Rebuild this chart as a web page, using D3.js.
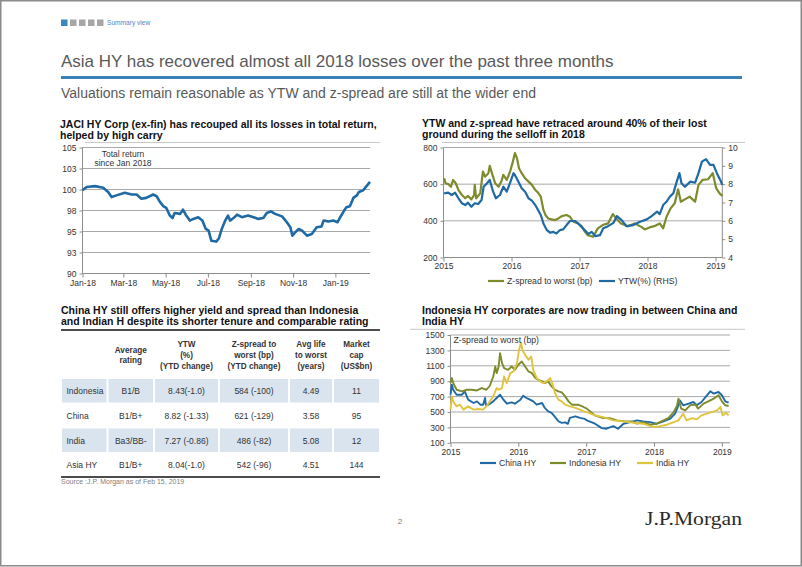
<!DOCTYPE html>
<html><head><meta charset="utf-8">
<script src="https://cdn.jsdelivr.net/npm/d3@7"></script>
<style>
body{margin:0;background:#fff}
svg{display:block}
text{font-family:"Liberation Sans",Arial,sans-serif}
</style>
</head><body>
<svg id="c" width="802" height="567"></svg>
<script>
// ---------------- DATA ----------------
// Chart 1: JACI HY Corp total return (since Jan 2018)
const trDates = ["2018-01-01","2018-01-07","2018-01-19","2018-01-31","2018-02-07","2018-02-12","2018-02-19","2018-03-03","2018-03-13","2018-03-20","2018-03-27","2018-04-03","2018-04-13","2018-04-18","2018-04-23","2018-04-28","2018-05-02","2018-05-07","2018-05-11","2018-05-14","2018-05-22","2018-05-26","2018-05-30","2018-06-05","2018-06-10","2018-06-17","2018-06-23","2018-06-28","2018-07-02","2018-07-06","2018-07-13","2018-07-17","2018-07-21","2018-07-26","2018-07-30","2018-08-02","2018-08-07","2018-08-12","2018-08-19","2018-08-28","2018-09-05","2018-09-12","2018-09-19","2018-09-24","2018-09-30","2018-10-06","2018-10-16","2018-10-23","2018-10-28","2018-10-31","2018-11-04","2018-11-09","2018-11-14","2018-11-21","2018-11-28","2018-12-05","2018-12-12","2018-12-15","2018-12-22","2018-12-29","2019-01-04","2019-01-08","2019-01-13","2019-01-17","2019-01-22","2019-01-27","2019-02-01","2019-02-04","2019-02-10","2019-02-15","2019-02-20"];
const trValues = [99.9,100.3,100.4,100.2,99.7,99.1,99.3,99.6,99.4,99.4,98.9,99.0,99.4,99.2,98.5,98.0,97.8,96.9,96.6,97.2,97.1,97.6,97.0,96.3,96.5,96.7,96.3,95.3,95.1,93.9,93.8,94.2,95.3,96.3,96.9,96.3,96.6,97.0,96.7,96.9,96.7,96.5,96.6,97.2,97.4,97.1,96.8,96.1,95.5,94.5,94.9,95.3,95.1,94.5,94.7,95.5,95.6,96.3,96.2,96.3,96.1,96.7,97.4,97.9,98.0,99.0,99.3,99.7,99.9,100.4,100.9];
const trMonthTicks = ["2018-01-01","2018-03-01","2018-05-01","2018-07-01","2018-09-01","2018-11-01","2019-01-01"];
const trYTicks = [90,92.5,95,97.5,100,102.5,105];
const trYLabels = ["90","93","95","98","100","103","105"];

// Chart 2: Z-spread to worst (bp, LHS) and YTW (%, RHS)
const zSpread = [[2015.01,632],[2015.03,605],[2015.07,600],[2015.11,586],[2015.14,623],[2015.18,605],[2015.22,568],[2015.27,541],[2015.32,523],[2015.36,536],[2015.41,517],[2015.45,541],[2015.46,596],[2015.48,523],[2015.54,550],[2015.58,669],[2015.61,641],[2015.66,660],[2015.68,700],[2015.72,651],[2015.76,605],[2015.81,586],[2015.85,614],[2015.88,651],[2015.93,623],[2015.98,669],[2016.02,723],[2016.05,769],[2016.08,742],[2016.11,687],[2016.15,660],[2016.20,632],[2016.25,614],[2016.30,596],[2016.35,568],[2016.39,554],[2016.43,532],[2016.47,459],[2016.50,432],[2016.54,413],[2016.59,408],[2016.64,404],[2016.69,413],[2016.74,426],[2016.81,432],[2016.86,422],[2016.91,395],[2016.98,386],[2017.03,371],[2017.08,340],[2017.12,322],[2017.20,313],[2017.27,359],[2017.34,377],[2017.42,386],[2017.49,437],[2017.54,413],[2017.61,386],[2017.71,371],[2017.81,386],[2017.91,367],[2017.96,353],[2018.03,364],[2018.10,371],[2018.18,386],[2018.23,359],[2018.28,422],[2018.34,468],[2018.40,496],[2018.45,572],[2018.49,504],[2018.55,517],[2018.62,532],[2018.70,504],[2018.75,596],[2018.81,623],[2018.89,627],[2018.96,660],[2019.01,578],[2019.06,550],[2019.10,536]];
const ytw = [[2015.01,7.50],[2015.07,7.54],[2015.12,7.41],[2015.17,7.54],[2015.22,7.23],[2015.27,6.96],[2015.32,6.86],[2015.36,6.99],[2015.41,6.77],[2015.46,6.96],[2015.51,6.92],[2015.56,7.14],[2015.59,7.86],[2015.64,8.05],[2015.68,8.23],[2015.73,7.59],[2015.77,7.23],[2015.83,7.41],[2015.88,7.86],[2015.93,7.59],[2015.98,8.08],[2016.03,8.60],[2016.05,8.50],[2016.10,8.14],[2016.15,7.78],[2016.20,7.59],[2016.25,7.23],[2016.30,7.10],[2016.35,6.86],[2016.39,6.59],[2016.43,6.32],[2016.47,5.86],[2016.52,5.49],[2016.57,5.35],[2016.61,5.40],[2016.66,5.31],[2016.71,5.49],[2016.76,5.53],[2016.81,5.77],[2016.86,5.99],[2016.93,5.99],[2016.98,5.86],[2017.03,5.67],[2017.08,5.49],[2017.13,5.28],[2017.18,5.40],[2017.23,5.17],[2017.30,5.22],[2017.35,5.59],[2017.42,5.71],[2017.50,5.89],[2017.55,6.26],[2017.62,6.04],[2017.69,5.71],[2017.79,5.77],[2017.89,5.95],[2017.99,6.08],[2018.06,6.26],[2018.14,6.50],[2018.18,6.37],[2018.23,6.86],[2018.28,7.04],[2018.33,7.32],[2018.38,7.50],[2018.43,8.14],[2018.47,8.60],[2018.50,8.05],[2018.55,7.86],[2018.63,8.14],[2018.70,8.08],[2018.75,8.60],[2018.80,9.23],[2018.86,9.36],[2018.92,9.05],[2018.97,9.05],[2019.02,8.60],[2019.07,8.23],[2019.10,7.96]];
const yearTicks = [2015,2016,2017,2018,2019];
const zsTicks = [200,400,600,800];
const ytwTicks = [4,5,6,7,8,9,10];

// Chart 3: Z-spread to worst (bp) by country
const chinaHY = [[2015.00,725],[2015.02,854],[2015.04,789],[2015.09,725],[2015.17,725],[2015.21,767],[2015.26,660],[2015.34,617],[2015.39,638],[2015.44,595],[2015.48,595],[2015.51,682],[2015.52,595],[2015.56,595],[2015.63,638],[2015.68,682],[2015.73,725],[2015.78,660],[2015.83,608],[2015.90,625],[2015.95,608],[2016.03,660],[2016.07,712],[2016.12,682],[2016.17,660],[2016.22,638],[2016.27,595],[2016.35,617],[2016.39,553],[2016.44,509],[2016.49,488],[2016.54,436],[2016.59,380],[2016.64,359],[2016.69,366],[2016.73,346],[2016.76,423],[2016.84,444],[2016.91,423],[2016.98,410],[2017.01,391],[2017.13,348],[2017.23,291],[2017.30,283],[2017.40,317],[2017.47,283],[2017.55,348],[2017.65,369],[2017.75,391],[2017.84,378],[2017.94,369],[2018.04,348],[2018.14,378],[2018.24,413],[2018.31,478],[2018.36,587],[2018.38,652],[2018.43,587],[2018.51,609],[2018.58,630],[2018.63,587],[2018.70,630],[2018.78,717],[2018.83,769],[2018.88,739],[2018.95,760],[2019.00,717],[2019.05,639],[2019.10,622]];
const indonesiaHY = [[2015.00,876],[2015.02,941],[2015.04,876],[2015.09,789],[2015.17,767],[2015.24,789],[2015.31,789],[2015.39,780],[2015.46,811],[2015.53,789],[2015.58,841],[2015.63,961],[2015.66,1091],[2015.68,1005],[2015.71,1091],[2015.73,1264],[2015.76,1134],[2015.79,1070],[2015.85,1048],[2015.90,1091],[2015.95,1048],[2016.00,1113],[2016.05,1156],[2016.10,1091],[2016.15,1027],[2016.20,1005],[2016.25,941],[2016.29,919],[2016.35,898],[2016.39,876],[2016.44,898],[2016.49,832],[2016.54,789],[2016.59,767],[2016.64,754],[2016.69,703],[2016.74,638],[2016.79,595],[2016.88,595],[2016.96,565],[2017.01,544],[2017.13,456],[2017.25,421],[2017.35,421],[2017.45,391],[2017.57,378],[2017.67,378],[2017.75,348],[2017.84,369],[2017.94,335],[2018.04,348],[2018.14,391],[2018.21,421],[2018.29,499],[2018.34,587],[2018.36,674],[2018.40,544],[2018.46,521],[2018.53,587],[2018.61,596],[2018.65,544],[2018.73,609],[2018.80,639],[2018.88,674],[2018.95,717],[2019.00,639],[2019.05,587],[2019.10,578]];
const indiaHY = [[2015.00,531],[2015.02,703],[2015.04,638],[2015.09,573],[2015.14,595],[2015.19,531],[2015.26,573],[2015.34,531],[2015.41,539],[2015.48,531],[2015.53,573],[2015.58,638],[2015.63,703],[2015.68,811],[2015.71,789],[2015.76,811],[2015.79,961],[2015.83,876],[2015.88,1005],[2015.93,1027],[2015.98,1134],[2016.01,1306],[2016.04,1401],[2016.06,1306],[2016.10,1242],[2016.15,1177],[2016.19,1220],[2016.22,1048],[2016.27,941],[2016.32,898],[2016.37,876],[2016.42,898],[2016.47,941],[2016.50,876],[2016.54,747],[2016.59,660],[2016.64,638],[2016.69,595],[2016.76,573],[2016.84,553],[2016.91,531],[2016.96,509],[2017.01,499],[2017.13,456],[2017.25,434],[2017.40,391],[2017.55,378],[2017.70,361],[2017.84,348],[2017.99,304],[2018.09,317],[2018.19,335],[2018.29,369],[2018.36,391],[2018.43,478],[2018.48,391],[2018.56,421],[2018.63,404],[2018.70,456],[2018.78,478],[2018.85,499],[2018.93,521],[2018.98,565],[2019.01,456],[2019.06,491],[2019.10,456]];
const spreadTicks = [100,300,500,700,900,1100,1300,1500];
const countryNames = ["China HY","Indonesia HY","India HY"];

// Table
const tableHeaders = [[""],["Average","rating"],["YTW","(%)","(YTD change)"],["Z-spread  to","worst (bp)","(YTD change)"],["Avg life","to worst","(years)"],["Market","cap","(US$bn)"]];
const tableRows = [
  ["Indonesia","B1/B","8.43(-1.0)","584 (-100)","4.49","11"],
  ["China","B1/B+","8.82 (-1.33)","621 (-129)","3.58","95"],
  ["India","Ba3/BB-","7.27 (-0.86)","486 (-82)","5.08","12"],
  ["Asia HY","B1/B+","8.04(-1.0)","542 (-96)","4.51","144"]
];

// ---------------- DRAW ----------------
const svg = d3.select("#c");
const BLUE = "#1f6aa5", OLIVE = "#7e8b2d", YELLOW = "#dfc43e";
const AXIS = "#8c8c8c", GRID = "#a9a9a9", LBL = "#333";
const parse = d3.timeParse("%Y-%m-%d");
const intFmt = d3.format("d");

svg.append("rect").attr("x",0.75).attr("y",0.75).attr("width",800.5).attr("height",565)
  .attr("fill","#fff").attr("stroke","#8a8a8a").attr("stroke-width",1.5);

// header squares
["#3b86be","#a6a6a6","#a6a6a6","#a6a6a6","#a6a6a6"].forEach((c,i)=>{
  svg.append("rect").attr("x",61+i*9).attr("y",19.5).attr("width",6.5).attr("height",6.5).attr("fill",c);
});
svg.append("text").attr("x",107).attr("y",25.3).attr("font-size",6.6).attr("fill","#4a8ac4").text("Summary view");

svg.append("text").attr("x",61).attr("y",67).attr("font-size",17).attr("fill","#595959")
  .text("Asia HY has recovered almost all 2018 losses over the past three months");
svg.append("rect").attr("x",61).attr("y",76).attr("width",681).attr("height",3).attr("fill","#3a80b9");
svg.append("text").attr("x",61).attr("y",98).attr("font-size",14).attr("fill","#595959")
  .text("Valuations remain reasonable as YTW and z-spread are still at the wider end");

function title(x,y,lines){
  lines.forEach((t,i)=>svg.append("text").attr("x",x).attr("y",y+i*11.3).attr("font-size",10.5)
    .attr("font-weight","bold").attr("fill","#111").text(t));
}
function hline(x1,x2,y,color,w){
  svg.append("line").attr("x1",x1).attr("x2",x2).attr("y1",y).attr("y2",y).attr("stroke",color).attr("stroke-width",w);
}
function styleAxis(g){
  g.select(".domain").remove();
  g.selectAll(".tick line").attr("stroke",AXIS);
  g.selectAll(".tick text").attr("font-size",8.5).attr("fill",LBL);
}

// ===== Chart 1 =====
title(60,127.5,["JACI HY Corp (ex-fin) has recouped all its losses in total return,","helped by high carry"]);
hline(85,380,142.5,"#c8c8c8",1);
const x1 = d3.scaleTime().domain([parse("2018-01-01"), parse("2019-02-20")]).range([82.5,370]);
const y1 = d3.scaleLinear().domain([90,105]).range([273.5,147.5]);
trYTicks.forEach(v=>{ if(v!==90) hline(82.5,370,y1(v),GRID,1); });
{
  const gy = svg.append("g").attr("transform","translate(82.5,0)")
    .call(d3.axisLeft(y1).tickValues(trYTicks).tickFormat((d,i)=>trYLabels[i]).tickSize(3).tickPadding(3));
  styleAxis(gy);
  svg.append("line").attr("x1",82.5).attr("x2",82.5).attr("y1",147.5).attr("y2",273.5).attr("stroke",AXIS);
  const gx = svg.append("g").attr("transform","translate(0,273.5)")
    .call(d3.axisBottom(x1).tickValues(trMonthTicks.map(parse)).tickFormat(d3.timeFormat("%b-%y")).tickSize(4).tickPadding(2));
  styleAxis(gx);
  hline(82.5,370,273.5,AXIS,1);
}
svg.append("path").datum(trDates.map((d,i)=>[parse(d),trValues[i]]))
  .attr("fill","none").attr("stroke",BLUE).attr("stroke-width",2.6).attr("stroke-linejoin","round")
  .attr("d",d3.line().x(d=>x1(d[0])).y(d=>y1(d[1])));
svg.append("text").attr("x",123).attr("y",156.5).attr("text-anchor","middle").attr("font-size",8.5).attr("fill",LBL).text("Total return");
svg.append("text").attr("x",123).attr("y",166).attr("text-anchor","middle").attr("font-size",8.5).attr("fill",LBL).text("since Jan 2018");

// ===== Chart 2 =====
title(422,127,["YTW and z-spread have retraced around 40% of their lost","ground during the selloff in 2018"]);
hline(442,745,142.5,"#c8c8c8",1);
const x2 = d3.scaleLinear().domain([2015,2019.1]).range([443.5,722.3]);
const y2L = d3.scaleLinear().domain([200,800]).range([257.5,147.5]);
const y2R = d3.scaleLinear().domain([4,10]).range([257.5,147.5]);
zsTicks.forEach(v=>{ if(v!==200) hline(443.5,722.3,y2L(v),GRID,1); });
{
  const gl = svg.append("g").attr("transform","translate(443.5,0)")
    .call(d3.axisLeft(y2L).tickValues(zsTicks).tickFormat(intFmt).tickSize(3).tickPadding(3));
  styleAxis(gl);
  const gr = svg.append("g").attr("transform","translate(722.3,0)")
    .call(d3.axisRight(y2R).tickValues(ytwTicks).tickFormat(intFmt).tickSize(3).tickPadding(3));
  styleAxis(gr);
  svg.append("line").attr("x1",443.5).attr("x2",443.5).attr("y1",147.5).attr("y2",257.5).attr("stroke",AXIS);
  svg.append("line").attr("x1",722.3).attr("x2",722.3).attr("y1",147.5).attr("y2",257.5).attr("stroke",AXIS);
  const gx = svg.append("g").attr("transform","translate(0,257.5)")
    .call(d3.axisBottom(x2).tickValues(yearTicks).tickFormat(intFmt).tickSize(4).tickPadding(1));
  styleAxis(gx);
  hline(443.5,722.3,257.5,AXIS,1);
}
svg.append("path").datum(zSpread).attr("fill","none").attr("stroke",OLIVE).attr("stroke-width",2.2).attr("stroke-linejoin","round")
  .attr("d",d3.line().x(d=>x2(d[0])).y(d=>y2L(d[1])));
svg.append("path").datum(ytw).attr("fill","none").attr("stroke",BLUE).attr("stroke-width",2.2).attr("stroke-linejoin","round")
  .attr("d",d3.line().x(d=>x2(d[0])).y(d=>y2R(d[1])));
// legend
[[OLIVE,488,"Z-spread to worst (bp)"],[BLUE,599,"YTW(%) (RHS)"]].forEach(([c,x,t])=>{
  hline(x,x+16,281,c,2.2);
  svg.append("text").attr("x",x+19).attr("y",284).attr("font-size",8.7).attr("fill",LBL).text(t);
});

// ===== Table =====
title(61,314,["China HY still offers higher yield and spread than Indonesia","and Indian H despite its shorter tenure and comparable rating"]);
hline(61,380,330,"#111",1.5);
const colX = [61,107.5,154,219,289,333,380];
tableHeaders.forEach((lines,ci)=>{
  const cx = (colX[ci]+colX[ci+1])/2;
  const y0 = 355 - (lines.length-1)*10.7/2 + 3;
  lines.forEach((t,li)=>svg.append("text").attr("x",cx).attr("y",y0+li*10.7).attr("text-anchor","middle")
    .attr("font-size",8.2).attr("font-weight","bold").attr("fill","#333").text(t));
});
const rowTop = [379,404,428.5,453];
tableRows.forEach((row,ri)=>{
  const top = rowTop[ri];
  if(ri%2===0){
    row.forEach((_,ci)=>svg.append("rect").attr("x",colX[ci]+1).attr("y",top).attr("width",colX[ci+1]-colX[ci]-2)
      .attr("height",23.5).attr("fill","#d9e4ef"));
  }
  row.forEach((t,ci)=>{
    const x = ci===0 ? 66.5 : (colX[ci]+colX[ci+1])/2;
    svg.append("text").attr("x",x).attr("y",top+15).attr("text-anchor",ci===0?"start":"middle")
      .attr("font-size",8.5).attr("fill","#333").text(t);
  });
});
hline(61,380,477,"#111",1.5);
svg.append("text").attr("x",61).attr("y",484).attr("font-size",7).attr("fill","#808080").text("Source :J.P. Morgan  as of Feb 15, 2019");

// ===== Chart 3 =====
title(422,314,["Indonesia HY corporates are now trading in between China and","India HY"]);
hline(410,745,329.3,"#c8c8c8",1);
const x3 = d3.scaleLinear().domain([2015,2019.12]).range([450.5,730]);
const y3 = d3.scaleLinear().domain([100,1500]).range([442.8,335]);
spreadTicks.forEach(v=>{ if(v!==100) hline(450.5,730,y3(v),GRID,1); });
{
  const gl = svg.append("g").attr("transform","translate(450.5,0)")
    .call(d3.axisLeft(y3).tickValues(spreadTicks).tickFormat(intFmt).tickSize(3).tickPadding(3));
  styleAxis(gl);
  svg.append("line").attr("x1",450.5).attr("x2",450.5).attr("y1",335).attr("y2",442.8).attr("stroke",AXIS);
  const gx = svg.append("g").attr("transform","translate(0,442.8)")
    .call(d3.axisBottom(x3).tickValues(yearTicks).tickFormat(intFmt).tickSize(4).tickPadding(2));
  styleAxis(gx);
  hline(450.5,730,442.8,AXIS,1);
}
const line3 = d3.line().x(d=>x3(d[0])).y(d=>y3(d[1]));
[[chinaHY,BLUE],[indonesiaHY,OLIVE],[indiaHY,YELLOW]].forEach(([s,c])=>{
  svg.append("path").datum(s).attr("fill","none").attr("stroke",c).attr("stroke-width",1.9).attr("stroke-linejoin","round").attr("d",line3);
});
svg.append("text").attr("x",453.5).attr("y",342.5).attr("font-size",8.7).attr("fill",LBL).text("Z-spread to worst (bp)");
[[BLUE,480],[OLIVE,550],[YELLOW,637]].forEach(([c,x],i)=>{
  hline(x,x+16,463,c,2.2);
  svg.append("text").attr("x",x+19).attr("y",466).attr("font-size",8.7).attr("fill",LBL).text(countryNames[i]);
});

// footer
svg.append("text").attr("x",400).attr("y",524).attr("text-anchor","middle").attr("font-size",8).attr("fill","#777").text("2");
svg.append("text").attr("x",645).attr("y",524.5).attr("font-size",19).attr("fill","#2b2b2b")
  .style("font-family","'Liberation Serif','Times New Roman',serif")
  .attr("textLength",97).attr("lengthAdjust","spacingAndGlyphs").text("J.P.Morgan");
</script>
</body></html>
